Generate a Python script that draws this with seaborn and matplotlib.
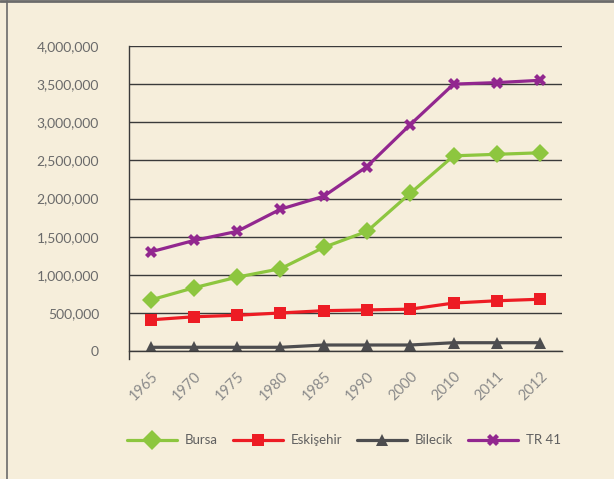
import pandas as pd
import matplotlib
matplotlib.use("Agg")
import matplotlib.pyplot as plt
from matplotlib.lines import Line2D
import seaborn as sns

# values
years = ["1965", "1970", "1975", "1980", "1985", "1990", "2000", "2010", "2011", "2012"]
bursa = [670000, 830000, 970000, 1080000, 1360000, 1570000, 2070000, 2560000, 2580000, 2600000]
eskisehir = [410000, 450000, 470000, 500000, 530000, 540000, 550000, 630000, 660000, 680000]
bilecik = [50000, 50000, 50000, 50000, 80000, 80000, 80000, 110000, 110000, 110000]
tr41 = [1300000, 1450000, 1570000, 1860000, 2030000, 2420000, 2970000, 3500000, 3520000, 3550000]
series_names = ["Bursa", "Eskişehir", "Bilecik", "TR 41"]

bg = "#F6EEDB"
colors = {"Bursa": "#8DC63F", "Eskişehir": "#ED1C24", "Bilecik": "#4D4D4F", "TR 41": "#92278F"}
markers = {"Bursa": "D", "Eskişehir": "s", "Bilecik": "^", "TR 41": "X"}
msizes = {"Bursa": 10, "Eskişehir": 9, "Bilecik": 9, "TR 41": 9}

data = pd.DataFrame({
    "year": years * 4,
    "value": bursa + eskisehir + bilecik + tr41,
    "region": [n for n in series_names for _ in years],
})

sns.set_style("white")
plt.rcParams["font.family"] = ["Lato", "DejaVu Sans"]

fig = plt.figure(figsize=(6.14, 4.79), dpi=100, facecolor=bg)
ax = fig.add_axes([0.210, 0.267, 0.705, 0.637])
ax.set_facecolor(bg)

sns.lineplot(data=data, x="year", y="value", hue="region", style="region",
             palette=colors, markers=markers, dashes=False, linewidth=2.3,
             markersize=9, markeredgewidth=0, sort=False, ax=ax, legend=False)

ax.set_xlim(-0.5, len(years) - 0.5)
ax.set_ylim(0, 4000000)
ax.set_yticks(range(0, 4000001, 500000))
ax.set_yticklabels([f"{v:,}" for v in range(0, 4000001, 500000)])
ax.grid(axis="y", color="#3a3a3a", linewidth=1)
ax.set_axisbelow(True)
ax.set_xlabel("")
ax.set_ylabel("")

ax.set_xticks(range(len(years)))
ax.set_xticklabels(years, rotation=45, ha="right", rotation_mode="anchor")
ax.set_xticks([i + 0.5 for i in range(-1, len(years))], minor=True)
ax.tick_params(axis="x", which="major", length=0, pad=13, labelsize=10.5, labelcolor="#8a8a8a")
ax.tick_params(axis="x", which="minor", length=5.5, width=1, color="#3a3a3a", direction="out")
ax.tick_params(axis="y", length=9.5, width=1, color="#3a3a3a", labelsize=10, labelcolor="#6a6a6a", pad=12)
for s in ["top", "right"]:
    ax.spines[s].set_visible(False)
ax.spines["left"].set_color("#3a3a3a")
ax.spines["left"].set_bounds(-100000, 4000000)
ax.spines["bottom"].set_color("#3a3a3a")
ax.spines["bottom"].set_linewidth(1)
ax.spines["left"].set_linewidth(1)

handles = [Line2D([0], [0], color=colors[n], linewidth=2.3, marker=markers[n],
                  markersize=msizes[n], markeredgewidth=0) for n in series_names]
fig.legend(handles, series_names, loc="center", bbox_to_anchor=(0.56, 0.081), ncol=4,
           frameon=False, handlelength=3.8, columnspacing=1.1, handletextpad=0.6,
           fontsize=9.5, labelcolor="#606060")

# thin frame on top and left like the source
fig.add_artist(Line2D([0, 1], [0.997, 0.997], color="#6b6b6b", linewidth=2, transform=fig.transFigure))
fig.add_artist(Line2D([0.012, 0.012], [0, 0.997], color="#6b6b6b", linewidth=1.2, transform=fig.transFigure))

fig.savefig("out.png", dpi=100, facecolor=bg)
